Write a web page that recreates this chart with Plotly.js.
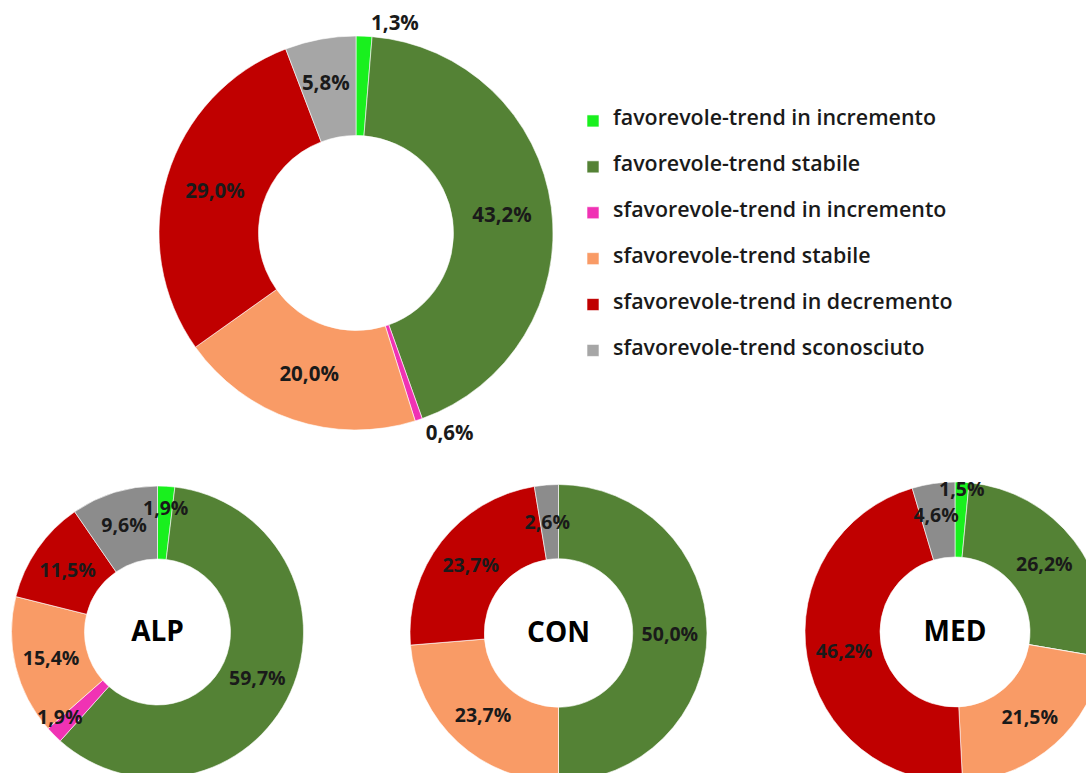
<!DOCTYPE html>
<html>
<head>
<meta charset="utf-8">
<script src="https://cdn.plot.ly/plotly-3.0.1.min.js"></script>
<style>
html,body{margin:0;padding:0;overflow:hidden;background:#fff;}
#chart{width:1120px;height:800px;}
</style>
</head>
<body>
<div id="chart"></div>
<script>
// Categories (legend order, clockwise from 12 o'clock)
var categories = [
  "favorevole-trend in incremento",
  "favorevole-trend stabile",
  "sfavorevole-trend in incremento",
  "sfavorevole-trend stabile",
  "sfavorevole-trend in decremento",
  "sfavorevole-trend sconosciuto"
];
// Percent values
var totalValues = [1.3, 43.2, 0.6, 20.0, 29.0, 5.8];
var alpValues   = [1.9, 59.7, 1.9, 15.4, 11.5, 9.6];
var conValues   = [0, 50.0, 0, 23.7, 23.7, 2.6];
var medValues   = [1.5, 26.2, 0, 21.5, 46.2, 4.6];
var regionNames = ["ALP", "CON", "MED"];

var mainColors = ["#19F01E", "#548235", "#F032B4", "#F99B66", "#C00000", "#A6A6A6"];
var subColors  = ["#19F01E", "#548235", "#F032B4", "#F99B66", "#C00000", "#8C8C8C"];
var clear = ["rgba(0,0,0,0)","rgba(0,0,0,0)","rgba(0,0,0,0)","rgba(0,0,0,0)","rgba(0,0,0,0)","rgba(0,0,0,0)"];

function fmt(v){ return v > 0 ? v.toFixed(1).replace(".", ",") + "%" : ""; }
// label placement (styling only): positive n = blank lines above (label moves down),
// negative n = blank lines below (label moves up)
function labels(vals, push){
  return vals.map(function(v, i){
    var s = fmt(v);
    var n = (push && push[i]) || 0;
    for(var k = 0; k < Math.abs(n); k++) s = n > 0 ? " <br>" + s : s + "<br> ";
    return s;
  });
}

var FONT = "'Open Sans', sans-serif";
var legendLabels = categories.map(function(c){
  return " <br><span style=\"font-size:21.4px\">" + c + "</span><br> ";
});

var W = 1120, H = 800;
function dom(cx, cy, r){
  return {x:[(cx - r)/W, (cx + r)/W], y:[1 - (cy + r)/H, 1 - (cy - r)/H]};
}

function pieBase(vals, colors, hole, domain, title, showlegend){
  var t = {
    type: "pie", labels: legendLabels, values: vals,
    textinfo: "none", sort: false, direction: "clockwise", rotation: 0,
    hole: hole,
    marker: {colors: colors, line: {color: "#ffffff", width: 0.6}},
    domain: domain, showlegend: showlegend, hoverinfo: "skip"
  };
  if(title){
    t.title = {text: title, position: "middle center",
               font: {family: FONT, size: 28, color: "#000", weight: "bold"}};
  }
  return t;
}
function pieText(vals, hole, domain, size, positions, push){
  return {
    type: "pie", labels: legendLabels, values: vals,
    text: labels(vals, push), textinfo: "text", texttemplate: "%{text}",
    textposition: positions, insidetextorientation: "horizontal",
    sort: false, direction: "clockwise", rotation: 0, hole: hole,
    marker: {colors: clear, line: {width: 0}},
    textfont: {family: FONT, size: size, color: "#1a1a1a", weight: "bold"},
    outsidetextfont: {family: FONT, size: size, color: "#1a1a1a", weight: "bold"},
    domain: domain, showlegend: false, hoverinfo: "skip"
  };
}

var mainDom = dom(356, 233, 197);
var traces = [pieBase(totalValues, mainColors, 0.495, mainDom, null, true)];

var subData = [alpValues, conValues, medValues];
var subCenters = [[157.5, 632, 146], [558.5, 633, 148.5], [955, 632, 150]];
var subPush = [[1,0,-1,0,0,0], [0,0,0,0,0,2], [0,0,0,0,0,1]];
var subDoms = subCenters.map(function(c){ return dom(c[0], c[1], c[2]); });
subData.forEach(function(vals, i){
  traces.push(pieBase(vals, subColors, 0.5, subDoms[i], regionNames[i], false));
});
// text layers drawn on top of all slices
traces.push(pieText(totalValues, 0.495, mainDom, 20.5,
  ["outside", "inside", "outside", "inside", "inside", "inside"], [0,0,0,0,0,1]));
subData.forEach(function(vals, i){
  traces.push(pieText(vals, 0.5, subDoms[i], 19.5, "inside", subPush[i]));
});

var layout = {
  width: W, height: H,
  margin: {l:0, r:0, t:0, b:0},
  paper_bgcolor: "#ffffff",
  plot_bgcolor: "#ffffff",
  showlegend: true,
  uniformtext: {mode: "show", minsize: 19.5},
  legend: {
    x: 573/W, xanchor: "left",
    y: 1 - 93/H, yanchor: "top",
    font: {family: FONT, size: 11, color: "#1a1a1a", weight: 600},
    bgcolor: "rgba(0,0,0,0)",
    itemclick: false, itemdoubleclick: false
  }
};

Plotly.newPlot("chart", traces, layout, {staticPlot: true, displayModeBar: false});
</script>
</body>
</html>
